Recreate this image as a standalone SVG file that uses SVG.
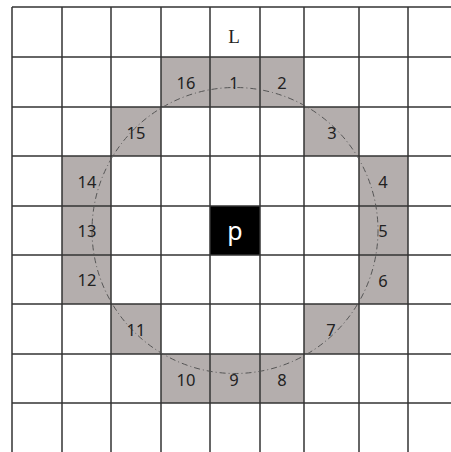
<svg xmlns="http://www.w3.org/2000/svg" width="451" height="452" viewBox="0 0 451 452">
<style>
.cell{fill:#b4aead}
.grid line{stroke:#333;stroke-width:1.5}
.num{font-family:"Noto Sans","Liberation Sans",sans-serif;font-size:16.5px;fill:#222;text-anchor:middle}
.circ{fill:none;stroke:#555;stroke-width:1;stroke-dasharray:6 3 1 3}
</style>
<rect width="451" height="452" fill="#fff"/>
<g id="cells">
<g id="n16"><rect class="cell" x="161" y="57" width="49" height="50"/></g>
<g id="n1"><rect class="cell" x="210" y="57" width="50" height="50"/></g>
<g id="n2"><rect class="cell" x="260" y="57" width="44" height="50"/></g>
<g id="n15"><rect class="cell" x="111" y="107" width="50" height="49"/></g>
<g id="n3"><rect class="cell" x="304" y="107" width="55" height="49"/></g>
<g id="n14"><rect class="cell" x="62" y="156" width="49" height="50"/></g>
<g id="n4"><rect class="cell" x="359" y="156" width="49" height="50"/></g>
<g id="n13"><rect class="cell" x="62" y="206" width="49" height="49"/></g>
<g id="n5"><rect class="cell" x="359" y="206" width="49" height="49"/></g>
<g id="n12"><rect class="cell" x="62" y="255" width="49" height="49"/></g>
<g id="n6"><rect class="cell" x="359" y="255" width="49" height="49"/></g>
<g id="n11"><rect class="cell" x="111" y="304" width="50" height="50"/></g>
<g id="n7"><rect class="cell" x="304" y="304" width="55" height="50"/></g>
<g id="n10"><rect class="cell" x="161" y="354" width="49" height="49"/></g>
<g id="n9"><rect class="cell" x="210" y="354" width="50" height="49"/></g>
<g id="n8"><rect class="cell" x="260" y="354" width="44" height="49"/></g>
<g id="p"><rect x="210" y="206" width="50" height="49" fill="#000"/></g>
</g>
<g class="grid">
<line x1="12" y1="7" x2="451" y2="7"/>
<line x1="12" y1="57" x2="451" y2="57"/>
<line x1="12" y1="107" x2="451" y2="107"/>
<line x1="12" y1="156" x2="451" y2="156"/>
<line x1="12" y1="206" x2="451" y2="206"/>
<line x1="12" y1="255" x2="451" y2="255"/>
<line x1="12" y1="304" x2="451" y2="304"/>
<line x1="12" y1="354" x2="451" y2="354"/>
<line x1="12" y1="403" x2="451" y2="403"/>
<line x1="12" y1="7" x2="12" y2="452"/>
<line x1="62" y1="7" x2="62" y2="452"/>
<line x1="111" y1="7" x2="111" y2="452"/>
<line x1="161" y1="7" x2="161" y2="452"/>
<line x1="210" y1="7" x2="210" y2="452"/>
<line x1="260" y1="7" x2="260" y2="452"/>
<line x1="304" y1="7" x2="304" y2="452"/>
<line x1="359" y1="7" x2="359" y2="452"/>
<line x1="408" y1="7" x2="408" y2="452"/>
</g>
<g id="connectors">
<circle class="circ" cx="235" cy="230.5" r="143"/>
</g>
<g id="labels">
<text x="234" y="43" font-family="Liberation Serif,serif" font-size="19" fill="#222" text-anchor="middle">L</text>
<text x="235" y="240" font-family="Noto Sans,Liberation Sans,sans-serif" font-size="25" fill="#fff" text-anchor="middle">p</text>
<text class="num" x="186" y="89">16</text>
<text class="num" x="234" y="89">1</text>
<text class="num" x="282" y="89">2</text>
<text class="num" x="136" y="139">15</text>
<text class="num" x="332" y="139">3</text>
<text class="num" x="87" y="188">14</text>
<text class="num" x="383" y="188">4</text>
<text class="num" x="87" y="237">13</text>
<text class="num" x="383" y="237">5</text>
<text class="num" x="87" y="286">12</text>
<text class="num" x="383" y="287">6</text>
<text class="num" x="136" y="336">11</text>
<text class="num" x="331" y="336">7</text>
<text class="num" x="186" y="386">10</text>
<text class="num" x="234" y="386">9</text>
<text class="num" x="282" y="386">8</text>
</g>
</svg>
